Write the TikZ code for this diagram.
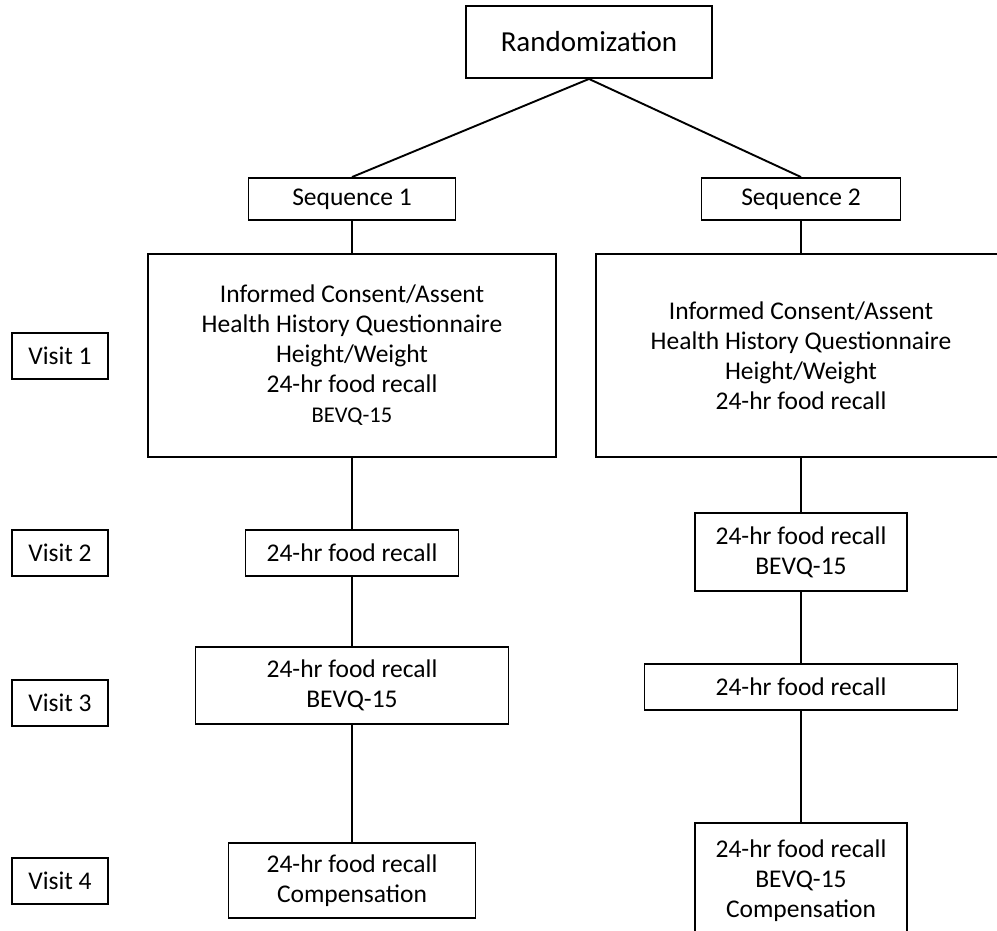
\documentclass[tikz,border=0pt]{standalone}
\usepackage{fontspec}
\setmainfont{Carlito}
\usepackage{tikz}
\tikzset{%
  boxA/.style={draw=black!100, line width=1.9pt, align=center, inner sep=0pt,
    font=\fontsize{25.5}{30}\selectfont},
  lineA/.style={color=black!100, line width=1.9pt}
}

\begin{document}
\begin{tikzpicture}[x=1pt,y=-1pt]
    \useasboundingbox (0,0) rectangle (997,930);
    % top of the tree
    \node[boxA, minimum width=246, minimum height=72, font=\fontsize{29}{30}\selectfont] (rand) at (589,42) {Randomization};
    \node[boxA, minimum width=207, minimum height=42] (seqA) at (352,199) {Sequence 1};
    \node[boxA, minimum width=199, minimum height=42] (seqB) at (801,199) {Sequence 2};
    % visit labels
    \node[boxA, minimum width=96, minimum height=46] (visitA) at (60,356) {Visit 1};
    \node[boxA, minimum width=96, minimum height=46] (visitB) at (60,553) {Visit 2};
    \node[boxA, minimum width=96, minimum height=46] (visitC) at (60,703) {Visit 3};
    \node[boxA, minimum width=96, minimum height=46] (visitD) at (60,881) {Visit 4};
    % sequence 1
    \node[boxA, minimum width=408, minimum height=203] (seqAvA) at (352,355.5) {Informed Consent/Assent\\ Health History Questionnaire\\ Height/Weight\\ 24-hr food recall\\ {\fontsize{22.5}{28}\selectfont BEVQ-15}};
    \node[boxA, minimum width=213, minimum height=46] (seqAvB) at (352,553) {24-hr food recall};
    \node[boxA, minimum width=313, minimum height=77] (seqAvC) at (352,685.5) {24-hr food recall\\ BEVQ-15};
    \node[boxA, minimum width=247, minimum height=75] (seqAvD) at (352,880.5) {24-hr food recall\\ Compensation};
    % sequence 2
    \node[boxA, minimum width=410, minimum height=203] (seqBvA) at (801,355.5) {Informed Consent/Assent\\ Health History Questionnaire\\ Height/Weight\\ 24-hr food recall};
    \node[boxA, minimum width=212, minimum height=78] (seqBvB) at (801,552) {24-hr food recall\\ BEVQ-15};
    \node[boxA, minimum width=313, minimum height=46] (seqBvC) at (801,687) {24-hr food recall};
    \node[boxA, minimum width=212, minimum height=116] (seqBvD) at (801,881) {24-hr food recall\\ BEVQ-15\\ Compensation};
    % connectors
    \draw[lineA] (rand.south) -- (seqA.north);
    \draw[lineA] (rand.south) -- (seqB.north);
    \draw[lineA] (seqA) -- (seqAvA) -- (seqAvB) -- (seqAvC) -- (seqAvD);
    \draw[lineA] (seqB) -- (seqBvA) -- (seqBvB) -- (seqBvC) -- (seqBvD);
\end{tikzpicture}
\end{document}
